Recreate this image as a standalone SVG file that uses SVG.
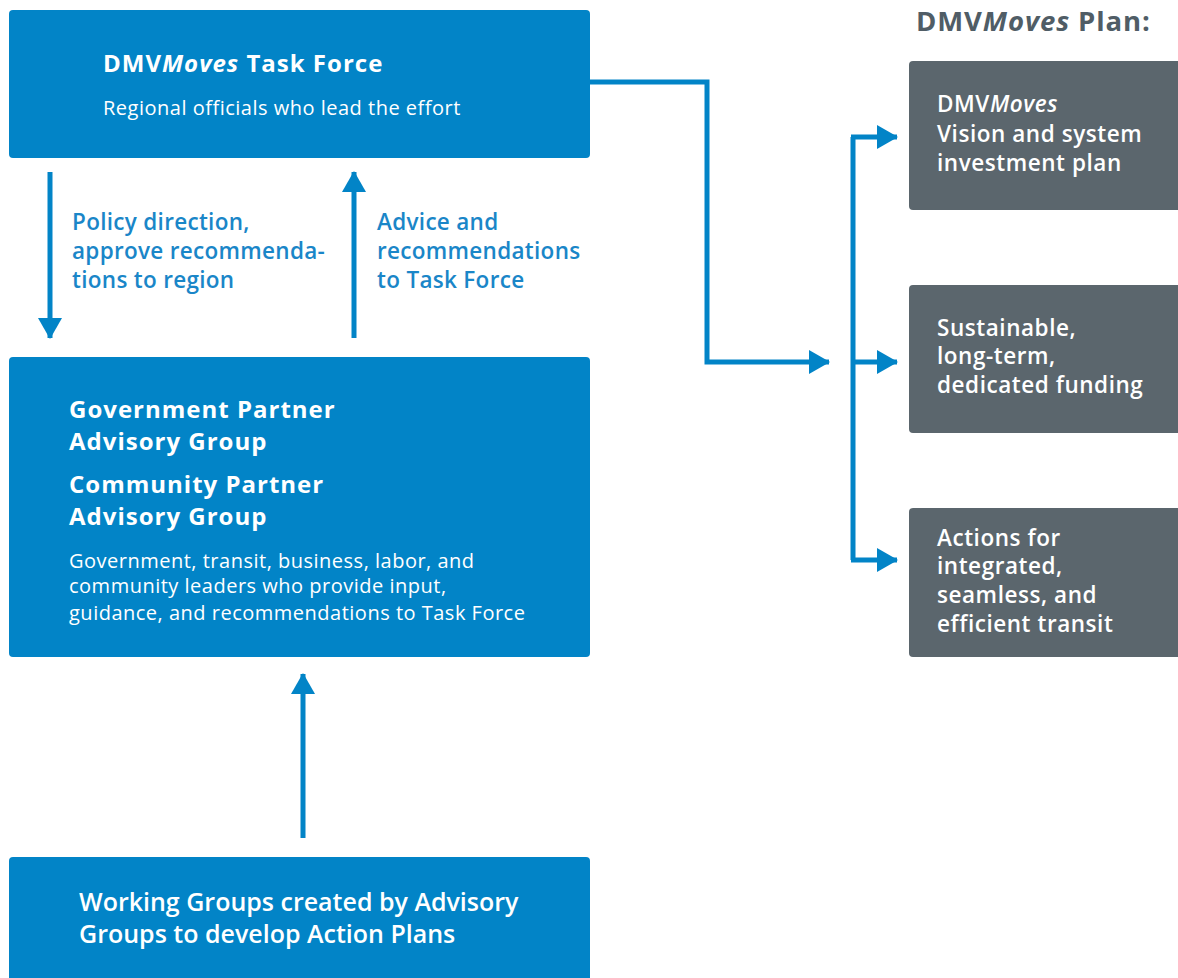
<svg xmlns="http://www.w3.org/2000/svg" width="1178" height="978" viewBox="0 0 1178 978">
<defs>
<style>
.blue{fill:#0284C7}
.gray{fill:#5B666D}
.w{fill:#ffffff;font-family:"Open Sans",Lato,"Liberation Sans",sans-serif}
.hb{font-size:24px;font-weight:700;letter-spacing:1px}
.hm{font-size:25px;font-weight:600}
.sm{font-size:20px;font-weight:400;letter-spacing:0.5px}
.lab{fill:#1A86C8;font-family:"Open Sans",Lato,"Liberation Sans",sans-serif;font-size:22.5px;font-weight:600;letter-spacing:0.3px}
.gt{font-size:22.5px;font-weight:600;letter-spacing:0.55px}
.title{fill:#505D66;font-family:"Open Sans",Lato,"Liberation Sans",sans-serif;font-size:27.5px;font-weight:700;letter-spacing:0.9px}
.ln{fill:none;stroke:#0284C7;stroke-width:5}
</style>
<marker id="ah" markerWidth="22" markerHeight="26" refX="20" refY="12" orient="auto" markerUnits="userSpaceOnUse">
<path d="M0,0 L21,12 L0,24 Z" fill="#0284C7"/>
</marker>
</defs>
<rect width="1178" height="978" fill="#ffffff"/>

<g id="task-force">
<rect class="blue" x="9" y="10" width="581" height="148" rx="4"/>
<text class="w hb" x="103" y="72">DMV<tspan font-style="italic">Moves</tspan> Task Force</text>
<text class="w sm" x="103" y="115">Regional officials who lead the effort</text>
</g>

<g id="advisory-groups">
<rect class="blue" x="9" y="357" width="581" height="300" rx="4"/>
<text class="w hb" x="69" y="418">Government Partner</text>
<text class="w hb" x="69" y="450">Advisory Group</text>
<text class="w hb" x="69" y="493">Community Partner</text>
<text class="w hb" x="69" y="525">Advisory Group</text>
<text class="w sm" x="69" y="568">Government, transit, business, labor, and</text>
<text class="w sm" x="69" y="593">community leaders who provide input,</text>
<text class="w sm" x="69" y="620">guidance, and recommendations to Task Force</text>
</g>

<g id="working-groups">
<rect class="blue" x="9" y="857" width="581" height="130" rx="4"/>
<text class="w hm" x="79" y="911">Working Groups created by Advisory</text>
<text class="w hm" x="79" y="943">Groups to develop Action Plans</text>
</g>

<g id="plan-title">
<text class="title" x="916" y="31">DMV<tspan font-style="italic">Moves</tspan> Plan:</text>
</g>

<g id="plan-vision">
<rect class="gray" x="909" y="61" width="280" height="149" rx="4"/>
<text class="w gt" x="937" y="112">DMV<tspan font-style="italic">Moves</tspan></text>
<text class="w gt" x="937" y="142">Vision and system</text>
<text class="w gt" x="937" y="171">investment plan</text>
</g>

<g id="plan-funding">
<rect class="gray" x="909" y="285" width="280" height="148" rx="4"/>
<text class="w gt" x="937" y="336">Sustainable,</text>
<text class="w gt" x="937" y="364">long-term,</text>
<text class="w gt" x="937" y="393">dedicated funding</text>
</g>

<g id="plan-actions">
<rect class="gray" x="909" y="508" width="280" height="149" rx="4"/>
<text class="w gt" x="937" y="546">Actions for</text>
<text class="w gt" x="937" y="574">integrated,</text>
<text class="w gt" x="937" y="603">seamless, and</text>
<text class="w gt" x="937" y="632">efficient transit</text>
</g>

<g id="connectors">
<line class="ln" x1="50" y1="172" x2="50" y2="338" marker-end="url(#ah)"/>
<line class="ln" x1="354" y1="338" x2="354" y2="172" marker-end="url(#ah)"/>
<line class="ln" x1="303" y1="838" x2="303" y2="674" marker-end="url(#ah)"/>
<path class="ln" d="M590,82 H707 V362 H829" marker-end="url(#ah)"/>
<path class="ln" d="M853,137 V560"/>
<line class="ln" x1="851" y1="137" x2="897" y2="137" marker-end="url(#ah)"/>
<line class="ln" x1="851" y1="362" x2="897" y2="362" marker-end="url(#ah)"/>
<line class="ln" x1="851" y1="560" x2="897" y2="560" marker-end="url(#ah)"/>
<text class="lab" x="72" y="230">Policy direction,</text>
<text class="lab" x="72" y="259">approve recommenda-</text>
<text class="lab" x="72" y="288">tions to region</text>
<text class="lab" x="377" y="230">Advice and</text>
<text class="lab" x="377" y="259">recommendations</text>
<text class="lab" x="377" y="288">to Task Force</text>
</g>
</svg>
